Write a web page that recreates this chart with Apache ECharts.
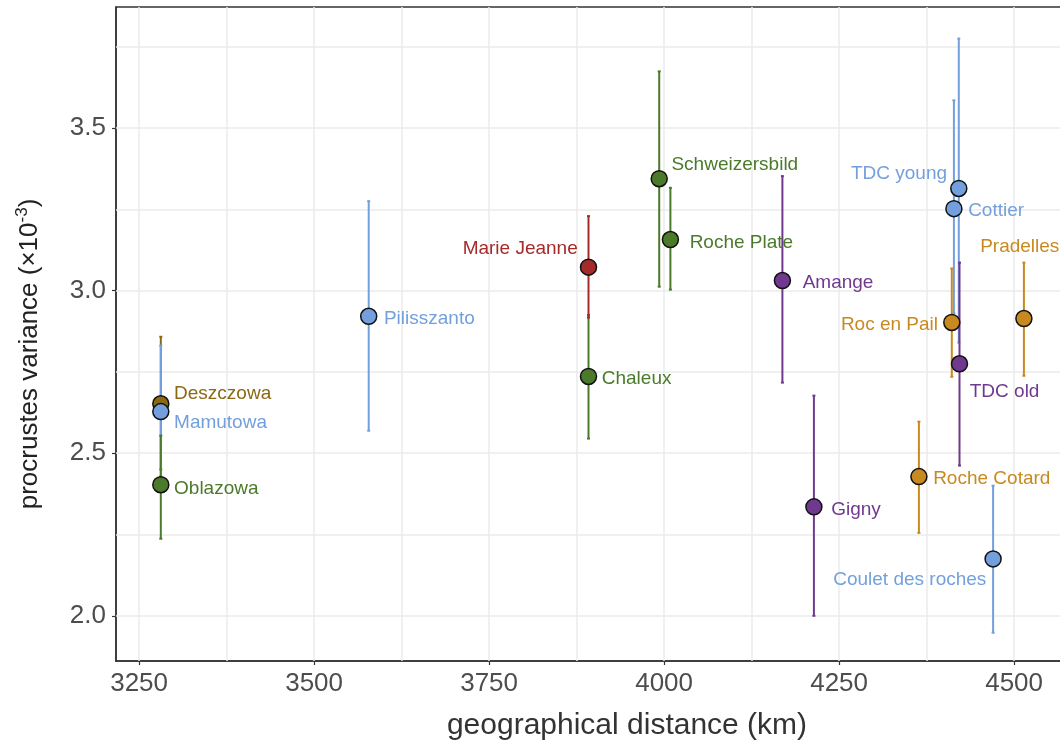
<!DOCTYPE html>
<html>
<head>
<meta charset="utf-8">
<script src="https://cdn.jsdelivr.net/npm/echarts@6/dist/echarts.min.js"></script>
<style>html,body{margin:0;padding:0;background:#fff;overflow:hidden}#c{width:1138px;height:742px}</style>
</head>
<body>
<div id="c"></div>
<script>
// ---- data ----
const sites = ['Deszczowa','Mamutowa','Oblazowa','Pilisszanto','Chaleux','Marie Jeanne','Schweizersbild','Roche Plate','Amange','Gigny','Roc en Pail','Cottier','TDC young','TDC old','Pradelles','Roche Cotard','Coulet des roches'];
const distanceKm = [3281, 3281, 3281, 3578, 3892, 3892, 3993, 4009, 4169, 4214, 4411, 4414, 4421, 4422, 4514, 4364, 4470];
const variance = [2.652, 2.628, 2.403, 2.921, 2.736, 3.072, 3.344, 3.157, 3.031, 2.335, 2.902, 3.252, 3.314, 2.775, 2.914, 2.428, 2.175];
const lower = [2.45, 2.43, 2.237, 2.569, 2.545, 2.917, 3.012, 3.003, 2.717, 2.0, 2.735, 2.93, 2.84, 2.462, 2.738, 2.255, 1.948];
const upper = [2.858, 2.831, 2.554, 3.275, 2.925, 3.229, 3.674, 3.316, 3.352, 2.677, 3.068, 3.585, 3.775, 3.086, 3.086, 2.597, 2.4];
const xTicks = [3250, 3500, 3750, 4000, 4250, 4500];
const xMinor = [3375, 3625, 3875, 4125, 4375, 4625];
const yTicks = [2.0, 2.5, 3.0, 3.5];
const yMinor = [2.25, 2.75, 3.25, 3.75];

// ---- styles ----
const siteColor = {
  'Deszczowa':'#8b6914','Mamutowa':'#73a0dc','Oblazowa':'#4b7a2a','Pilisszanto':'#73a0dc',
  'Chaleux':'#4b7a2a','Marie Jeanne':'#a52a2a','Schweizersbild':'#4b7a2a','Roche Plate':'#4b7a2a',
  'Amange':'#70398f','Gigny':'#70398f','Roc en Pail':'#c88a20','Cottier':'#73a0dc','TDC young':'#73a0dc',
  'TDC old':'#70398f','Pradelles':'#c88a20','Roche Cotard':'#c88a20','Coulet des roches':'#73a0dc'
};
// label anchor offset from point centre [dx, dy, align]
const labelPlace = {
  'Deszczowa':[14,-12,'left'],'Mamutowa':[14,9,'left'],'Oblazowa':[14,2,'left'],'Pilisszanto':[16,0,'left'],
  'Chaleux':[14,0,'left'],'Marie Jeanne':[-10,-21,'right'],'Schweizersbild':[13,-16,'left'],'Roche Plate':[20,1,'left'],
  'Amange':[21,0,'left'],'Gigny':[18,1,'left'],'Roc en Pail':[-13,0,'right'],'Cottier':[15,0,'left'],
  'TDC young':[-11,-17,'right'],'TDC old':[11,26,'left'],'Pradelles':[-43,-74,'left'],'Roche Cotard':[15,0,'left'],
  'Coulet des roches':[-6,19,'right']
};
const FONT = '"Liberation Sans", Arial, Helvetica, sans-serif';
const R = 8;
const TEXT_SHIFT = 3;

const pts = sites.map((s, i) => {
  const lp = labelPlace[s];
  return {
    name: s,
    value: [distanceKm[i], variance[i]],
    itemStyle: { color: siteColor[s] },
    label: {
      show: true, formatter: s, color: siteColor[s],
      position: [R + lp[0], R + lp[1] + TEXT_SHIFT], align: lp[2], verticalAlign: 'middle'
    }
  };
});
const bars = sites.map((s, i) => [distanceKm[i], lower[i], upper[i], i]);

const gridLines = xTicks.concat(xMinor).map(v => ({ xAxis: v }))
  .concat(yTicks.concat(yMinor).map(v => ({ yAxis: v })));

const chart = echarts.init(document.getElementById('c'), null, { renderer: 'canvas' });
chart.setOption({
  animation: false,
  backgroundColor: '#fff',
  textStyle: { fontFamily: FONT },
  grid: { left: 116, right: 0, top: 7, bottom: 81, show: true, borderColor: '#333', borderWidth: 1.5, backgroundColor: '#fff', containLabel: false, outerBoundsMode: 'none' },
  xAxis: {
    type: 'value', min: 3217, max: 4677,
    name: 'geographical distance (km)', nameLocation: 'middle', nameGap: 50,
    nameTextStyle: { fontSize: 30, color: '#333', fontFamily: FONT },
    axisLine: { show: true, onZero: false, lineStyle: { color: '#333', width: 1.5 } },
    axisTick: { show: true, length: 4, customValues: xTicks, lineStyle: { color: '#333', width: 1.2 } },
    axisLabel: { customValues: xTicks, fontSize: 26, color: '#4d4d4d', margin: 10, fontFamily: FONT, formatter: v => String(v) },
    splitLine: { show: false }
  },
  yAxis: {
    type: 'value', min: 1.861, max: 3.872,
    name: '{a|procrustes variance (×10}{s|-3}{a|)}', nameLocation: 'middle', nameGap: 71, nameRotate: 90,
    nameTextStyle: {
      padding: [0, 40, 0, 0],
      rich: {
        a: { fontSize: 26, color: '#222', fontFamily: FONT },
        s: { fontSize: 17, color: '#222', fontFamily: FONT, verticalAlign: 'top', padding: [0, 0, 14, 0] }
      }
    },
    axisLine: { show: true, onZero: false, lineStyle: { color: '#333', width: 1.5 } },
    axisTick: { show: true, length: 4, customValues: yTicks, lineStyle: { color: '#333', width: 1.2 } },
    axisLabel: { customValues: yTicks, fontSize: 26, color: '#4d4d4d', margin: 10, fontFamily: FONT, formatter: v => v.toFixed(1) },
    splitLine: { show: false }
  },
  series: [
    {
      type: 'custom',
      z: 2,
      data: bars,
      renderItem: (params, api) => {
        const x = api.value(0);
        const a = api.coord([x, api.value(1)]);
        const b = api.coord([x, api.value(2)]);
        const c = siteColor[sites[api.value(3)]];
        return {
          type: 'group',
          children: [
            { type: 'line', shape: { x1: a[0], y1: a[1], x2: b[0], y2: b[1] }, style: { stroke: c, lineWidth: 2 } },
            { type: 'line', shape: { x1: a[0] - 1.5, y1: a[1], x2: a[0] + 1.5, y2: a[1] }, style: { stroke: c, lineWidth: 2 } },
            { type: 'line', shape: { x1: b[0] - 1.5, y1: b[1], x2: b[0] + 1.5, y2: b[1] }, style: { stroke: c, lineWidth: 2 } }
          ]
        };
      },
      markLine: {
        silent: true, z: 1, symbol: 'none', animation: false,
        label: { show: false },
        lineStyle: { color: '#ebebeb', width: 1.5, type: 'solid' },
        emphasis: { disabled: true },
        data: gridLines
      }
    },
    {
      type: 'scatter',
      z: 3,
      symbol: 'circle',
      symbolSize: 2 * R,
      itemStyle: { borderColor: '#111', borderWidth: 1.5, opacity: 1 },
      label: { fontSize: 19, fontFamily: FONT },
      labelLayout: { hideOverlap: false },
      emphasis: { disabled: true },
      data: pts
    }
  ]
});
</script>
</body>
</html>
